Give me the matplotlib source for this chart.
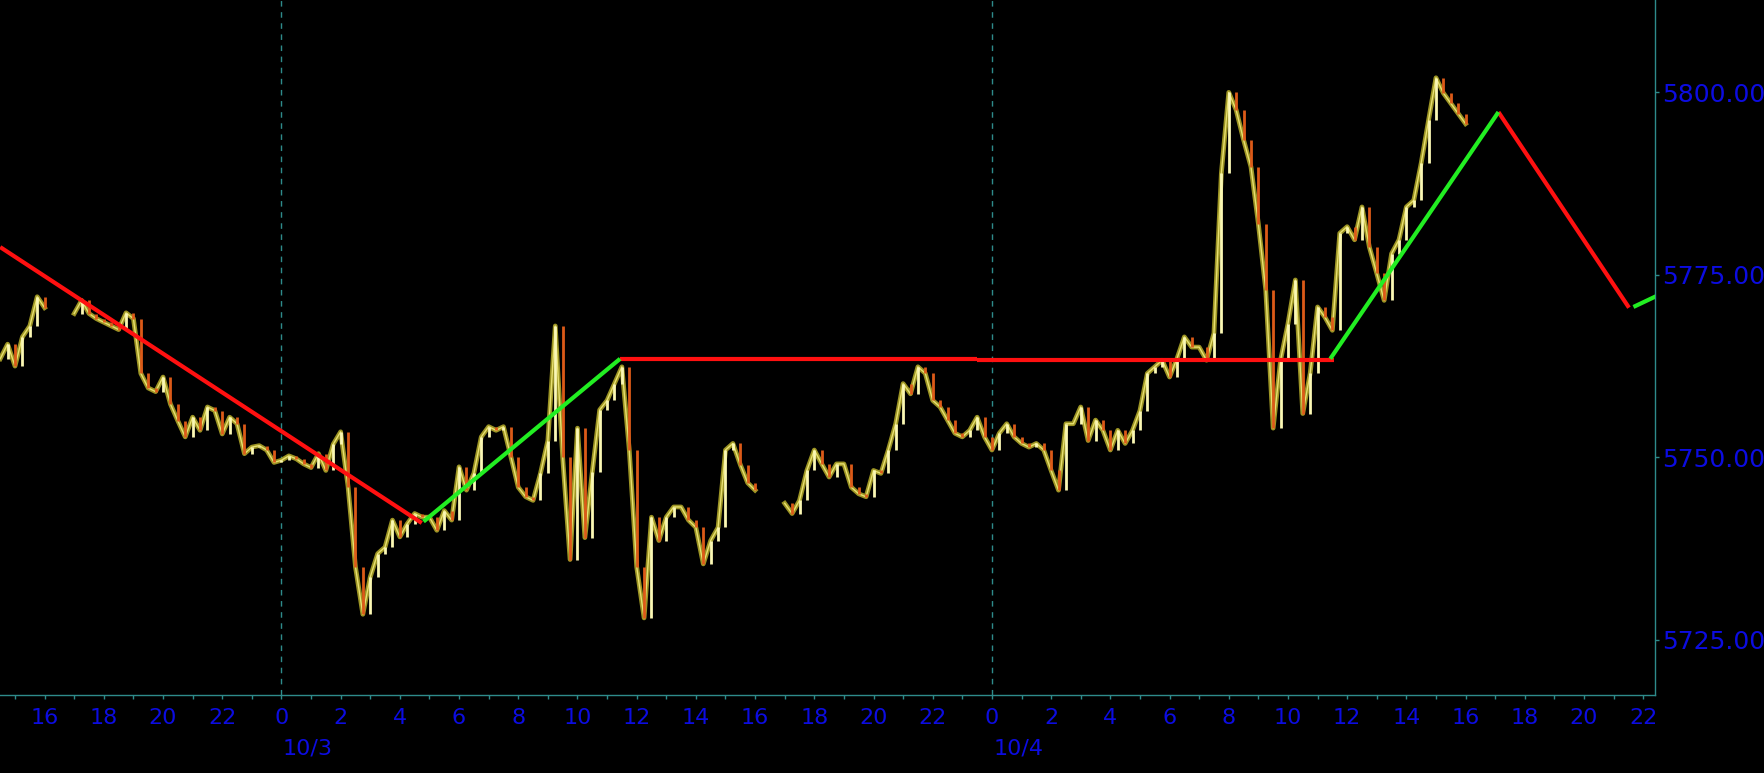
import numpy as np
import matplotlib
matplotlib.use('Agg')
import matplotlib.pyplot as plt
from matplotlib.ticker import MultipleLocator, FuncFormatter

# hours counted from 10/3 00:00, prices sampled every 15 minutes
start_a = -9.5
close_a = [5763.5, 5765.5, 5762.5, 5766.5, 5768.0, 5772.0, 5770.5]

start_b = -7.0
close_b = [5769.7, 5771.5, 5769.7, 5769.0, 5768.5, 5768.0, 5767.5, 5769.8, 5769.0,
           5761.5, 5759.5, 5759.0, 5761.0, 5757.3, 5755.0, 5752.8, 5755.5, 5753.7,
           5756.9, 5756.4, 5753.2, 5755.5, 5754.6, 5750.5, 5751.4, 5751.6, 5751.0,
           5749.3, 5749.6, 5750.2, 5749.8, 5749.1, 5748.6, 5750.5, 5748.2, 5751.8,
           5753.5, 5746.0, 5735.0, 5728.5, 5733.6, 5736.8, 5737.7, 5741.4, 5739.1,
           5740.9, 5742.3, 5741.8, 5741.8, 5740.0, 5742.7, 5741.4, 5748.7, 5745.5,
           5747.8, 5752.8, 5754.2, 5753.7, 5754.2, 5750.1, 5745.9, 5744.6, 5744.1,
           5747.8, 5752.3, 5768.0, 5750.0, 5736.0, 5754.0, 5739.0, 5748.0, 5756.5,
           5757.8, 5760.1, 5762.4, 5751.0, 5735.0, 5728.0, 5741.8, 5738.6, 5741.8,
           5743.2, 5743.2, 5741.4, 5740.4, 5735.4, 5738.6, 5740.4, 5751.0, 5751.9,
           5749.0, 5746.5, 5745.5]

start_c = 17.0
close_c = [5743.7, 5742.3, 5744.1, 5748.2, 5751.0, 5749.1, 5747.3, 5749.1, 5749.1,
           5745.9, 5745.0, 5744.6, 5748.2, 5747.8, 5751.0, 5754.6, 5760.1, 5758.7,
           5762.4, 5761.5, 5757.8, 5756.9, 5755.1, 5753.3, 5752.8, 5753.7, 5755.5,
           5752.8, 5751.0, 5753.3, 5754.6, 5752.8, 5751.9, 5751.4, 5751.9, 5751.0,
           5748.2, 5745.5, 5754.6, 5754.6, 5756.9, 5752.3, 5755.1, 5753.7, 5751.0,
           5753.7, 5751.9, 5753.7, 5756.4, 5761.5, 5762.4, 5763.3, 5761.0, 5763.5,
           5766.5, 5765.1, 5765.1, 5763.3, 5767.0, 5788.9, 5800.0, 5797.6, 5793.5,
           5789.8, 5782.0, 5772.9, 5754.0, 5763.3, 5768.3, 5774.3, 5756.0, 5761.5,
           5770.6, 5769.2, 5767.4, 5780.7, 5781.6, 5779.8, 5784.3, 5778.8, 5775.2,
           5771.5, 5777.9, 5779.8, 5784.3, 5785.2, 5790.3, 5796.2, 5802.0, 5799.9,
           5798.5, 5797.1, 5795.7]

# zigzag legs: (h0, p0, h1, p1)
zz_down = [(-9.5, 5778.8, 4.74, 5741.0),
           (11.44, 5763.5, 23.49, 5763.5),
           (23.49, 5763.4, 35.57, 5763.4),
           (41.11, 5797.3, 45.52, 5770.5)]
zz_up = [(4.80, 5741.2, 11.44, 5763.5),
         (35.43, 5763.5, 41.11, 5797.3),
         (45.67, 5770.6, 46.45, 5772.1)]

day_starts = [0, 24]
day_names = ['10/3', '10/4']

teal = '#2e8b8b'
blue = '#0c0ce0'

fig = plt.figure(figsize=(17.65, 7.73), dpi=100, facecolor='black')
ax = fig.add_axes([0, 0.1009, 0.9377, 0.8991], facecolor='black')

for start, closes in [(start_a, close_a), (start_b, close_b), (start_c, close_c)]:
    c = np.array(closes)
    h = start + 0.25 * np.arange(len(c))
    ax.plot(h, c, color='#9c9424', lw=3.4, zorder=2)
    ax.plot(h, c, color='#e8e070', lw=1.0, zorder=3)
    up = c[1:] >= c[:-1]
    lo = np.minimum(c[1:], c[:-1])
    hi = np.maximum(c[1:], c[:-1])
    ax.vlines(h[1:][up], lo[up], hi[up], color='#fbf8b4', lw=2.0, zorder=3)
    ax.vlines(h[1:][~up], lo[~up], hi[~up], color='#dc5a18', lw=2.0, zorder=3)

for h0, p0, h1, p1 in zz_down:
    ax.plot([h0, h1], [p0, p1], color='#ff1010', lw=3.0, zorder=4, solid_capstyle='butt')
for h0, p0, h1, p1 in zz_up:
    ax.plot([h0, h1], [p0, p1], color='#22ee22', lw=3.0, zorder=4, solid_capstyle='butt')

for d in day_starts:
    ax.axvline(d, color=teal, lw=1, dashes=(4, 4), zorder=1)

ax.set_xlim(-9.507, 46.4)
ax.set_ylim(5717.44, 5812.65)

ax.xaxis.set_major_locator(MultipleLocator(2))
ax.xaxis.set_minor_locator(MultipleLocator(1))
ax.xaxis.set_major_formatter(FuncFormatter(lambda v, p: '%d' % (int(round(v)) % 24)))
ax.tick_params(axis='x', which='both', colors=teal, length=3, width=1,
               labelcolor=blue, labelsize=16, pad=6)

ax.yaxis.tick_right()
ax.set_yticks([5725, 5750, 5775, 5800])
ax.yaxis.set_major_formatter(FuncFormatter(lambda v, p: '%.3f' % v))
ax.tick_params(axis='y', colors=teal, length=3, width=1,
               labelcolor=blue, labelsize=18, pad=2)

for s in ['left', 'top']:
    ax.spines[s].set_visible(False)
for s in ['right', 'bottom']:
    ax.spines[s].set_color(teal)
    ax.spines[s].set_linewidth(1)

for d, name in zip(day_starts, day_names):
    ax.text(d + 0.05, -0.077, name, transform=ax.get_xaxis_transform(),
            color=blue, fontsize=16, ha='left', va='center')

fig.savefig('out.png', dpi=100, facecolor='black')
